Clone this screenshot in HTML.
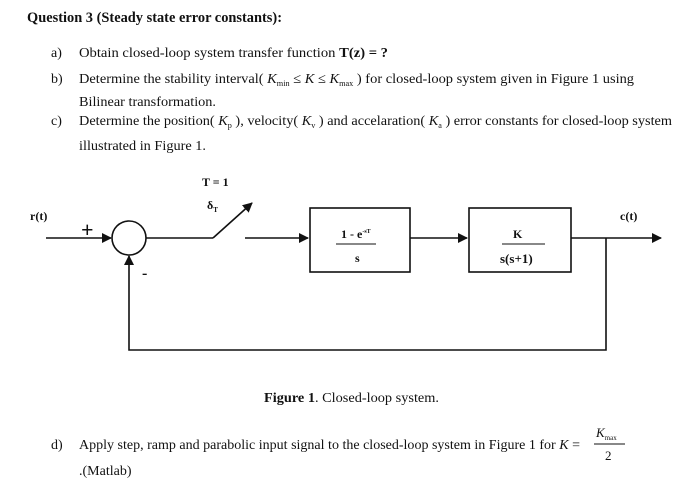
<!DOCTYPE html>
<html><head><meta charset="utf-8"><style>html,body{margin:0;padding:0;background:#fff}svg{display:block}text{font-family:"Liberation Serif",serif;fill:#111}</style></head><body>
<svg width="700" height="498" viewBox="0 0 700 498" xmlns="http://www.w3.org/2000/svg">
<defs><marker id="a" markerWidth="10" markerHeight="10" refX="9" refY="5" orient="auto" markerUnits="userSpaceOnUse"><path d="M0,0 L10,5 L0,10 z" fill="#111"/></marker></defs>
<text x="27" y="22" font-size="15" font-weight="bold" textLength="255" lengthAdjust="spacingAndGlyphs">Question 3 (Steady state error constants):</text>
<text x="51" y="57" font-size="14">a)</text>
<text x="79" y="57" font-size="14" textLength="309" lengthAdjust="spacingAndGlyphs">Obtain closed-loop system transfer function <tspan font-weight="bold">T(z) = ?</tspan></text>
<text x="51" y="83" font-size="14">b)</text>
<text x="79" y="83" font-size="14" textLength="555" lengthAdjust="spacingAndGlyphs">Determine the stability interval( <tspan font-style="italic">K</tspan><tspan font-size="8" dy="3">min</tspan><tspan dy="-3"> ≤ </tspan><tspan font-style="italic">K</tspan> ≤ <tspan font-style="italic">K</tspan><tspan font-size="8" dy="3">max</tspan><tspan dy="-3"> ) for closed-loop system given in Figure 1 using</tspan></text>
<text x="79" y="106" font-size="14" textLength="137" lengthAdjust="spacingAndGlyphs">Bilinear transformation.</text>
<text x="51" y="125" font-size="14">c)</text>
<text x="79" y="125" font-size="14" textLength="593" lengthAdjust="spacingAndGlyphs">Determine the position( <tspan font-style="italic">K</tspan><tspan font-size="8" dy="3">p</tspan><tspan dy="-3"> ), velocity( </tspan><tspan font-style="italic">K</tspan><tspan font-size="8" dy="3">v</tspan><tspan dy="-3"> ) and accelaration( </tspan><tspan font-style="italic">K</tspan><tspan font-size="8" dy="3">a</tspan><tspan dy="-3"> ) error constants for closed-loop system</tspan></text>
<text x="79" y="150" font-size="14" textLength="127" lengthAdjust="spacingAndGlyphs">illustrated in Figure 1.</text>

<g font-weight="bold" font-size="12">
<text x="202" y="186">T = 1</text>
<text x="207" y="209">δ<tspan font-size="7" dy="3">T</tspan></text>
<text x="30" y="220">r(t)</text>
<text x="620" y="220">c(t)</text>
<text x="341" y="238" font-size="12">1 - e<tspan font-size="6" dy="-5">-sT</tspan></text>
<text x="355" y="262" font-size="12">s</text>
<text x="513" y="238" font-size="12">K</text>
<text x="500" y="263" font-size="13">s(s+1)</text>
</g>
<text x="81" y="237" font-size="22" font-weight="bold">+</text>
<text x="142" y="278" font-size="16" font-weight="bold">-</text>
<g stroke="#111" stroke-width="1.6" fill="none">
<line x1="46" y1="238" x2="111" y2="238" marker-end="url(#a)"/>
<circle cx="129" cy="238" r="17"/>
<line x1="146" y1="238" x2="213" y2="238"/>
<line x1="213" y1="238" x2="252" y2="203" marker-end="url(#a)"/>
<line x1="245" y1="238" x2="308" y2="238" marker-end="url(#a)"/>
<rect x="310" y="208" width="100" height="64"/>
<line x1="410" y1="238" x2="467" y2="238" marker-end="url(#a)"/>
<rect x="469" y="208" width="102" height="64"/>
<line x1="571" y1="238" x2="661" y2="238" marker-end="url(#a)"/>
<polyline points="606,238 606,350 129,350 129,256" marker-end="url(#a)"/>
<line x1="336" y1="244" x2="376" y2="244" stroke-width="1"/>
<line x1="502" y1="244" x2="545" y2="244" stroke-width="1"/>
</g>
<text x="264" y="402" font-size="14" textLength="175" lengthAdjust="spacingAndGlyphs"><tspan font-weight="bold">Figure 1</tspan>. Closed-loop system.</text>
<text x="51" y="449" font-size="14">d)</text>
<text x="79" y="449" font-size="14" textLength="501" lengthAdjust="spacingAndGlyphs">Apply step, ramp and parabolic input signal to the closed-loop system in Figure 1 for <tspan font-style="italic">K</tspan> =</text>
<text x="596" y="437" font-size="13" font-style="italic">K<tspan font-size="7" font-style="normal" dy="3">max</tspan></text>
<line x1="594" y1="444" x2="625" y2="444" stroke="#111" stroke-width="1"/>
<text x="605" y="460" font-size="13">2</text>
<text x="79" y="475" font-size="14">.(Matlab)</text>
</svg>
</body></html>
